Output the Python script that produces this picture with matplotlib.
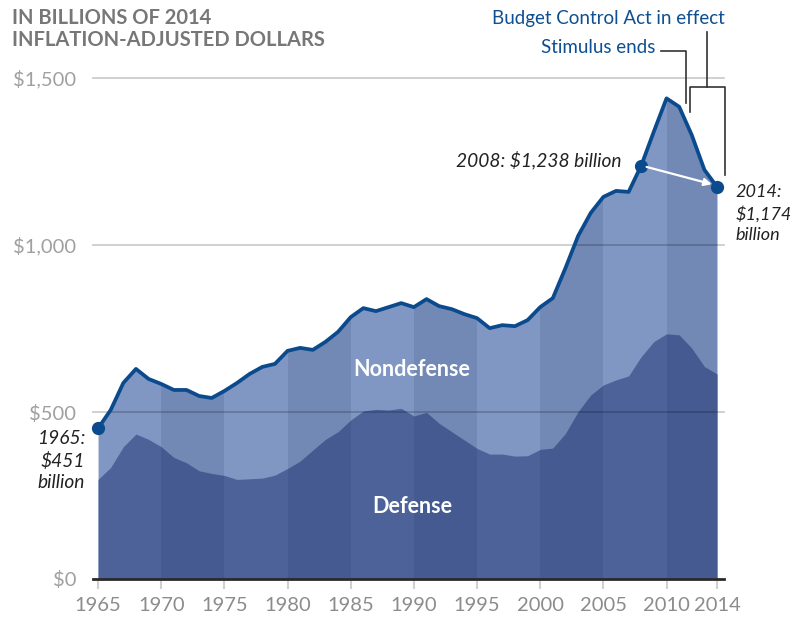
import matplotlib.pyplot as plt
import numpy as np

plt.rcParams['font.family'] = ['Lato', 'DejaVu Sans']

# federal outlays, billions of 2014 dollars
years = np.arange(1965, 2015)
total = [451, 506, 587, 629, 599, 584, 566, 566, 548, 542,
         563, 587, 614, 635, 644, 683, 692, 686, 710, 740,
         784, 811, 802, 814, 826, 814, 838, 817, 808, 793,
         781, 751, 760, 757, 775, 814, 841, 931, 1027, 1096,
         1144, 1162, 1159, 1238, 1340, 1439, 1414, 1329, 1225, 1174]
defense = [298, 334, 396, 434, 418, 396, 364, 348, 324, 316,
           310, 298, 300, 302, 311, 331, 353, 386, 418, 441,
           476, 503, 508, 506, 511, 488, 499, 466, 441, 416,
           391, 374, 374, 368, 369, 388, 392, 436, 501, 551,
           581, 596, 608, 666, 711, 734, 731, 691, 636, 614]
band_edges = [1965, 1970, 1975, 1980, 1985, 1990, 1995, 2000, 2005, 2010, 2014]
xtick_years = [1965, 1970, 1975, 1980, 1985, 1990, 1995, 2000, 2005, 2010, 2014]
ytick_vals = [0, 500, 1000, 1500]
ytick_labels = ['$0', '$500', '$1,000', '$1,500']

line_blue = '#0b4a8d'
text_blue = '#0d4f91'

fig = plt.figure(figsize=(7.9, 6.2), dpi=100)
ax = fig.add_axes([93 / 790, 41 / 620, 631 / 790, 517.7 / 620])
ax.set_xlim(1964.6, 2014.55)
ax.set_ylim(0, 1550)

# stacked areas
nondef = ax.fill_between(years, 0, total, color='#7f97c2', lw=0, zorder=1)
ax.fill_between(years, 0, defense, color='#4c6299', lw=0, zorder=2)

# alternating darker 5-year bands, clipped to the area
clip = nondef.get_paths()[0]
for i in range(1, len(band_edges) - 1, 2):
    span = ax.axvspan(band_edges[i], band_edges[i + 1], color='#0a1a50',
                      alpha=0.11, lw=0, zorder=3)
    span.set_clip_path(clip, transform=ax.transData)

# gridlines
for v in ytick_vals[1:]:
    ax.axhline(v, color='black', alpha=0.2, lw=1.3, zorder=4, clip_on=False)
ax.axhline(0, color='#2a2a2a', lw=2, zorder=6, clip_on=False)

ax.plot(years, total, color=line_blue, lw=2.7, zorder=7,
        solid_joinstyle='round', clip_on=False)

# highlighted points
i65 = 0
i08 = list(years).index(2008)
i14 = len(years) - 1
ax.plot([years[i65], years[i08], years[i14]], [total[i65], total[i08], total[i14]],
        'o', color=line_blue, ms=8.5, zorder=8, clip_on=False)

ax.annotate('', xy=(2013.58, 1182), xytext=(years[i08], total[i08]),
            arrowprops=dict(arrowstyle='-|>', color='white', lw=1.6,
                            mutation_scale=11, shrinkA=4, shrinkB=0),
            zorder=9)

# axis styling
for s in ax.spines.values():
    s.set_visible(False)
ax.set_xticks(xtick_years)
ax.set_xticklabels([str(y) for y in xtick_years])
ax.tick_params(axis='x', length=7, width=1.5, color='#d0d0d0', pad=6,
               labelsize=14.5, labelcolor='#8c8c8c')
ax.set_yticks(ytick_vals)
ax.set_yticklabels(ytick_labels)
ax.tick_params(axis='y', length=0, pad=12, labelsize=14.5, labelcolor='#a0a0a0')

# area labels
ax.text(1989.86, 626, 'Nondefense', color='white', fontsize=15.5,
        fontweight='bold', ha='center', va='center', zorder=9)
ax.text(1989.86, 216, 'Defense', color='white', fontsize=15.5,
        fontweight='bold', ha='center', va='center', zorder=9)

# value callouts
ax.text(1963.97, 446, '1965:\n$451\nbillion', fontsize=13.8, style='italic',
        color='#222222', ha='right', va='top', linespacing=1.3,
        clip_on=False)
ax.text(2006.4, 1254, '2008: $1,238 billion', fontsize=13.8, style='italic',
        color='#222222', ha='right', va='center')
ax.text(2015.45, 1182, '2014:\n$1,174\nbillion', fontsize=13, style='italic',
        color='#222222', ha='left', va='top', linespacing=1.38,
        clip_on=False)

# policy markers
ax.text(2014.63, 1677, 'Budget Control Act in effect', fontsize=13.5,
        color=text_blue, ha='right', va='center', clip_on=False)
ax.text(2009.1, 1590, 'Stimulus ends', fontsize=13.5, color=text_blue,
        ha='right', va='center', clip_on=False)
ax.plot([2009.55, 2011.53, 2011.53], [1582, 1582, 1425], color='#333333',
        lw=1.2, clip_on=False, zorder=9)
ax.plot([2013.24, 2013.24], [1639, 1472], color='#333333', lw=1.2,
        clip_on=False, zorder=9)
ax.plot([2011.87, 2011.87, 2014.59, 2014.59], [1399, 1472, 1472, 1210],
        color='#333333', lw=1.2, clip_on=False, zorder=9,
        solid_joinstyle='round')

fig.text(12 / 790, 1 - 8 / 620, 'IN BILLIONS OF 2014\nINFLATION-ADJUSTED DOLLARS',
         fontsize=14.5, fontweight='bold', color='#777777', ha='left', va='top',
         linespacing=1.15)

fig.savefig('out.png', dpi=100)
